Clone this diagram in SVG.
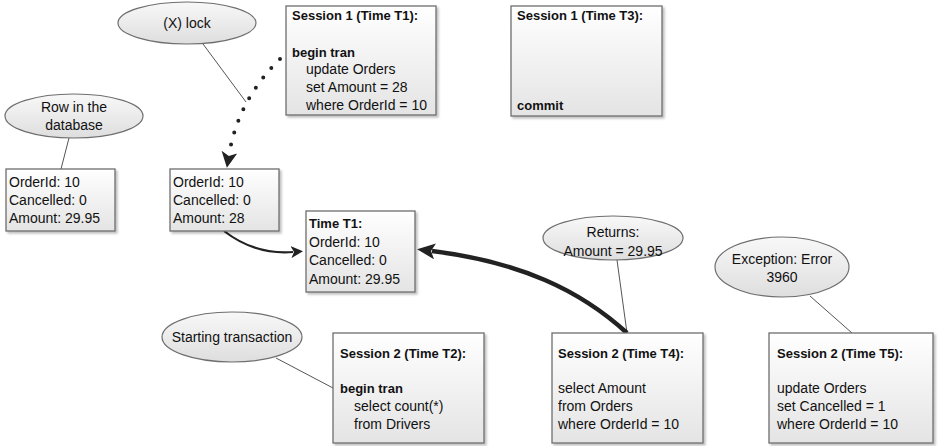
<svg xmlns="http://www.w3.org/2000/svg" width="938" height="446" viewBox="0 0 938 446">
<style>
.box{fill:url(#gbox);stroke:#6e6e6e;stroke-width:1.3;filter:url(#sh)}
.ell{fill:url(#gell);stroke:#6e6e6e;stroke-width:1.2}
text{font-family:"Liberation Sans",Arial,sans-serif;font-size:14px;fill:#111}
.b{font-weight:bold;font-size:13px}
.c{text-anchor:middle}
.call{stroke:#555;stroke-width:1;fill:none}
</style>
<defs>
<linearGradient id="gbox" x1="0" y1="0" x2="0" y2="1"><stop offset="0" stop-color="#ffffff"/><stop offset="1" stop-color="#e4e4e4"/></linearGradient>
<linearGradient id="gell" x1="0" y1="0" x2="0" y2="1"><stop offset="0" stop-color="#f8f8f8"/><stop offset="1" stop-color="#dedede"/></linearGradient>
<filter id="sh" x="-10%" y="-10%" width="120%" height="125%"><feDropShadow dx="2" dy="2" stdDeviation="1" flood-color="#000" flood-opacity="0.25"/></filter>
<marker id="ahDot" viewBox="0 0 16 16" refX="3" refY="8" markerWidth="16" markerHeight="16" markerUnits="userSpaceOnUse" orient="auto"><path d="M0,0 L16,8 L0,16 L4,8 z" fill="#222"/></marker>
<marker id="ahThin" viewBox="0 0 12 12" refX="2" refY="6" markerWidth="12" markerHeight="12" markerUnits="userSpaceOnUse" orient="auto"><path d="M0,0 L12,6 L0,12 L3,6 z" fill="#222"/></marker>
<marker id="ahThick" viewBox="0 0 18 16" refX="3" refY="8" markerWidth="18" markerHeight="16" markerUnits="userSpaceOnUse" orient="auto"><path d="M0,0 L18,8 L0,16 L4,8 z" fill="#222"/></marker>
</defs>

<g id="connectors">
<line class="call" x1="203" y1="44" x2="246" y2="102"/>
<line class="call" x1="69" y1="138" x2="61" y2="169"/>
<line class="call" x1="617" y1="260" x2="627" y2="333"/>
<line class="call" x1="810" y1="296" x2="852" y2="333"/>
<line class="call" x1="276" y1="358" x2="333" y2="388"/>
<path d="M280 59 Q238 100 229 155" fill="none" stroke="#222" stroke-width="4" stroke-linecap="round" stroke-dasharray="0 12.5" marker-end="url(#ahDot)"/>
<path d="M224 231 Q255 255 293 252" fill="none" stroke="#222" stroke-width="2.2" marker-end="url(#ahThin)"/>
<path d="M627 333 C580 290 520 262 432 251" fill="none" stroke="#222" stroke-width="4.5" marker-end="url(#ahThick)"/>
</g>

<g id="lock"><ellipse class="ell" cx="187" cy="23" rx="69" ry="21"/><text class="c" x="187" y="28">(X) lock</text></g>
<g id="rowdb"><ellipse class="ell" cx="74" cy="116" rx="69" ry="22"/><text class="c" x="74" y="112">Row in the</text><text class="c" x="74" y="130">database</text></g>
<g id="returns"><ellipse class="ell" cx="613" cy="238" rx="70" ry="22"/><text class="c" x="613" y="237">Returns:</text><text class="c" x="613" y="256">Amount = 29.95</text></g>
<g id="exception"><ellipse class="ell" cx="782" cy="267" rx="67" ry="30"/><text class="c" x="782" y="264">Exception: Error</text><text class="c" x="782" y="282">3960</text></g>
<g id="starting"><ellipse class="ell" cx="232" cy="337" rx="70" ry="25"/><text class="c" x="232" y="342">Starting transaction</text></g>

<g id="s1t1"><rect class="box" x="286" y="6" width="150" height="109"/>
<text class="b" x="292" y="20">Session 1 (Time T1):</text>
<text class="b" x="292" y="57">begin tran</text>
<text x="306" y="74">update Orders</text>
<text x="306" y="92">set Amount = 28</text>
<text x="306" y="110">where OrderId = 10</text></g>

<g id="s1t3"><rect class="box" x="511" y="6" width="151" height="110"/>
<text class="b" x="517" y="20">Session 1 (Time T3):</text>
<text class="b" x="517" y="110">commit</text></g>

<g id="row0"><rect class="box" x="6" y="169" width="109" height="62"/>
<text x="9" y="187">OrderId: 10</text>
<text x="9" y="205">Cancelled: 0</text>
<text x="9" y="223">Amount: 29.95</text></g>

<g id="row1"><rect class="box" x="170" y="169" width="109" height="62"/>
<text x="173" y="187">OrderId: 10</text>
<text x="173" y="205">Cancelled: 0</text>
<text x="173" y="223">Amount: 28</text></g>

<g id="timet1"><rect class="box" x="306" y="211" width="109" height="81"/>
<text class="b" x="309" y="228">Time T1:</text>
<text x="309" y="247">OrderId: 10</text>
<text x="309" y="265">Cancelled: 0</text>
<text x="309" y="284">Amount: 29.95</text></g>

<g id="s2t2"><rect class="box" x="333" y="333" width="151" height="110"/>
<text class="b" x="340" y="358">Session 2 (Time T2):</text>
<text class="b" x="340" y="393">begin tran</text>
<text x="354" y="411">select count(*)</text>
<text x="354" y="429">from Drivers</text></g>

<g id="s2t4"><rect class="box" x="552" y="333" width="151" height="110"/>
<text class="b" x="558" y="358">Session 2 (Time T4):</text>
<text x="558" y="393">select Amount</text>
<text x="558" y="411">from Orders</text>
<text x="558" y="429">where OrderId = 10</text></g>

<g id="s2t5"><rect class="box" x="769" y="333" width="164" height="110"/>
<text class="b" x="777" y="358">Session 2 (Time T5):</text>
<text x="777" y="393">update Orders</text>
<text x="777" y="411">set Cancelled = 1</text>
<text x="777" y="429">where OrderId = 10</text></g>
</svg>
